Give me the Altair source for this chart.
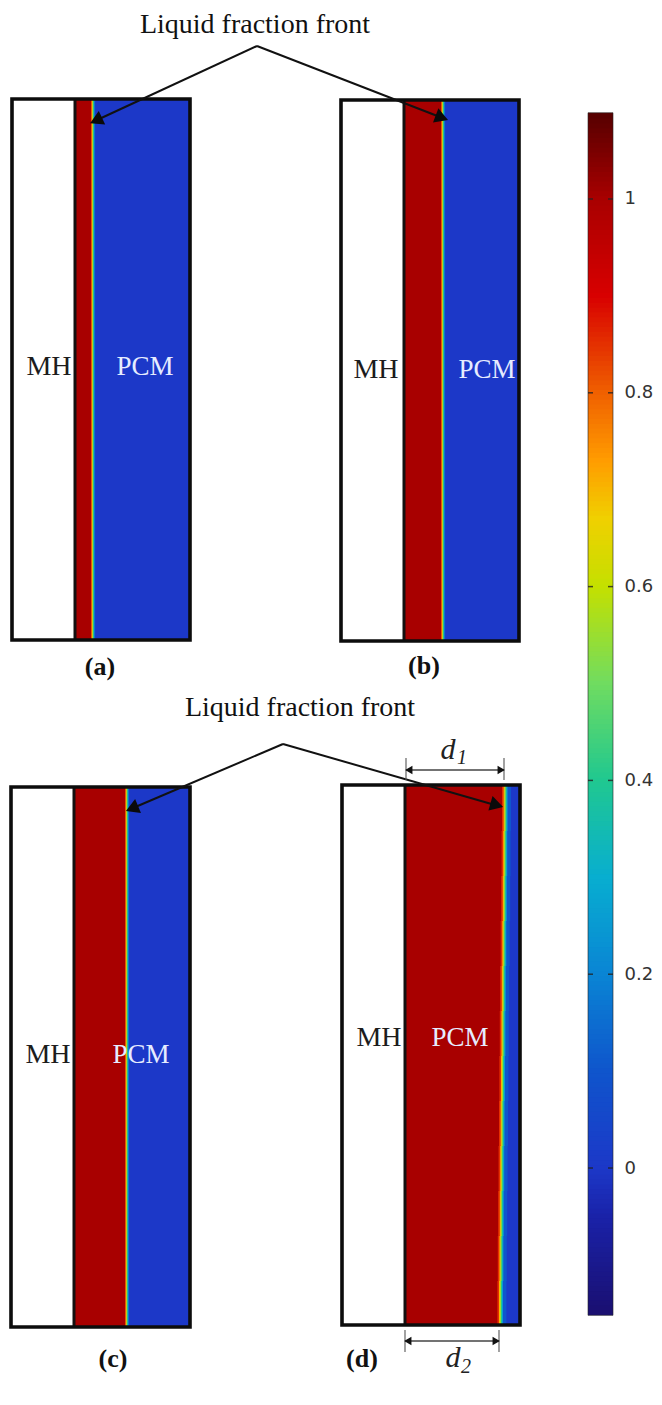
import altair as alt
import pandas as pd

# --- colour map
cmap_values = [-0.152, -0.05, 0.0, 0.1, 0.2, 0.3, 0.4, 0.5, 0.6, 0.67, 0.73, 0.8, 0.9, 1.0, 1.089]
cmap_colors = ["#1a0f70", "#1a22a8", "#1c38c8", "#0f55cc", "#0a85d4", "#08aed0", "#20c890", "#70dc60",
               "#c4e000", "#f0d000", "#ff9c00", "#f06000", "#d80000", "#a80000", "#560000"]
bar_min, bar_max = -0.152, 1.089
bar_ticks = [0, 0.2, 0.4, 0.6, 0.8, 1]

# --- panels
panels = ["a", "b", "c", "d"]
frame_left = [12, 341, 11, 342]
frame_right = [190, 519, 190, 520]
frame_top = [99, 100, 787, 785]
frame_bottom = [640, 641, 1327, 1325]
divider = [75, 404, 74, 405]

# liquid-fraction front: y stations and the x of the front at each one
front_y = {"a": [99, 640], "b": [100, 641], "c": [787, 1327],
           "d": [785, 830, 875, 920, 965, 1010, 1055, 1100, 1145, 1190, 1235, 1280, 1325]}
front_x = {"a": [91], "b": [441], "c": [125],
           "d": [502, 501.6, 501.2, 500.7, 500.2, 499.8, 499.4, 499, 498.6, 498.2, 497.8, 497.4]}
band_values = [0.1, 0.25, 0.4, 0.55, 0.7, 0.85, 1.0]
band_offset_thin = [4.2, 3.5, 2.8, 2.1, 1.4, 0.7, 0]
band_offset_wide = [9.0, 5.6, 4.6, 3.6, 2.6, 1.6, 0]

# --- text
regular_text = ["Liquid fraction front", "Liquid fraction front"]
regular_x = [255, 300]
regular_y = [33, 716]
labels_mh_x = [49, 376, 48, 379]
labels_mh_y = [375, 378, 1063, 1046]
labels_pcm_x = [145, 487, 141, 460]
labels_pcm_y = [375, 378, 1063, 1046]
sub_labels = ["(a)", "(b)", "(c)", "(d)"]
sub_x = [100, 424, 113, 362]
sub_y = [675, 674, 1367, 1367]

# --- arrows
arrow_x = [257, 257, 283, 283]
arrow_y = [46, 46, 744, 744]
arrow_x2 = [97, 440, 133, 495]
arrow_y2 = [120, 117, 808, 805]
head_x = [98, 439.8, 134, 494.7]
head_y = [119.6, 117, 807.7, 804.5]
head_angle = [245, 110.8, 247.4, 105.8]

dim_y = [770, 1341]
dim_x = [406, 405]
dim_x2 = [504, 499]
dim_tick_top = [758, 1330]
dim_tick_bottom = [780, 1352]

X_DOM = [8, 588]
Y_DOM = [1397, 8]
xs = alt.Scale(domain=X_DOM, nice=False, zero=False)
ys = alt.Scale(domain=Y_DOM, nice=False, zero=False)
cs = alt.Scale(domain=cmap_values, range=cmap_colors, interpolate="rgb")


def X(f):
    return alt.X(f, type="quantitative", scale=xs, axis=None, title=None)


def Y(f):
    return alt.Y(f, type="quantitative", scale=ys, axis=None, title=None)


# ---------- tables
base_rows = []
band_rows = []
for i, p in enumerate(panels):
    base_rows.append(dict(x=divider[i], x2=frame_right[i], y=frame_top[i], y2=frame_bottom[i], v=0.0))
    offs = band_offset_wide if p == "d" else band_offset_thin
    last = len(front_x[p]) - 1
    for v, o in zip(band_values, offs):
        for j, xx in enumerate(front_x[p]):
            y_end = front_y[p][j + 1] + (0 if j == last else 1)
            band_rows.append(dict(v=v, y=front_y[p][j], y2=y_end, x=divider[i], x2=xx + o))
base_df = pd.DataFrame(base_rows)
band_df = pd.DataFrame(band_rows)
frame_df = pd.DataFrame(dict(x=frame_left, x2=frame_right, y=frame_top, y2=frame_bottom))
div_df = pd.DataFrame(dict(x=divider, y=frame_top, y2=frame_bottom))
arrow_df = pd.DataFrame(dict(x=arrow_x, y=arrow_y, x2=arrow_x2, y2=arrow_y2))
head_df = pd.DataFrame(dict(x=head_x, y=head_y, a=head_angle))

base_layer = alt.Chart(base_df).mark_rect().encode(
    x=X("x"), x2="x2", y=Y("y"), y2="y2",
    color=alt.Color("v:Q", scale=cs, legend=None))

band_layer = alt.Chart(band_df).mark_rect().encode(
    x=X("x"), x2="x2", y=Y("y"), y2="y2",
    color=alt.Color("v:Q", scale=cs, legend=None))

frame_layer = alt.Chart(frame_df).mark_rect(fill=None, stroke="#0c0c0c", strokeWidth=3.6).encode(
    x=X("x"), x2="x2", y=Y("y"), y2="y2")

div_layer = alt.Chart(div_df).mark_rule(color="#141010", strokeWidth=3).encode(
    x=X("x"), y=Y("y"), y2="y2")

arrow_layer = alt.Chart(arrow_df).mark_rule(color="#111111", strokeWidth=2).encode(
    x=X("x"), y=Y("y"), x2="x2", y2="y2")

head_layer = alt.Chart(head_df).mark_point(shape="triangle", filled=True, opacity=1, color="#0a0a0a", size=230).encode(
    x=X("x"), y=Y("y"), angle=alt.Angle("a:Q", scale=None))

# dimension arrows d1, d2
dim_line = alt.Chart(pd.DataFrame(dict(x=dim_x, x2=dim_x2, y=dim_y))).mark_rule(color="#444444", strokeWidth=1.3).encode(
    x=X("x"), x2="x2", y=Y("y"))
dim_ticks_df = pd.DataFrame(dict(
    x=dim_x + dim_x2, y=dim_tick_top * 2, y2=dim_tick_bottom * 2))
dim_ticks = alt.Chart(dim_ticks_df).mark_rule(color="#555555", strokeWidth=1.1).encode(
    x=X("x"), y=Y("y"), y2="y2")
dim_heads_df = pd.DataFrame(dict(
    x=[410, 500, 409, 495], y=[770, 770, 1341, 1341], a=[270, 90, 270, 90]))
dim_heads = alt.Chart(dim_heads_df).mark_point(shape="triangle", filled=True, opacity=1, color="#111111", size=70).encode(
    x=X("x"), y=Y("y"), angle=alt.Angle("a:Q", scale=None))


def text_layer(xs_, ys_, texts, size, color="#111111", weight="normal", style="normal", align="center"):
    df = pd.DataFrame(dict(x=xs_, y=ys_, t=texts))
    return alt.Chart(df).mark_text(
        font="Liberation Serif", fontSize=size, color=color, fontWeight=weight, fontStyle=style,
        align=align, baseline="alphabetic").encode(x=X("x"), y=Y("y"), text="t:N")


texts = [
    text_layer(regular_x, regular_y, regular_text, 28),
    text_layer(labels_mh_x, labels_mh_y, ["MH"] * 4, 28, color="#1c1c1c"),
    text_layer(labels_pcm_x, labels_pcm_y, ["PCM"] * 4, 27, color="#e6ecff"),
    text_layer(sub_x, sub_y, sub_labels, 26, weight="bold"),
    text_layer([448, 453], [759, 1367], ["d", "d"], 30, style="italic", color="#222222"),
    text_layer([462, 466], [764, 1373], ["1", "2"], 20, style="italic", color="#222222"),
]

left = alt.layer(base_layer, band_layer, div_layer, frame_layer, arrow_layer, head_layer,
                 dim_line, dim_ticks, dim_heads, *texts).properties(width=580, height=1389)

# ---------- colour bar panel
bar_step = 0.005
n = int(round((bar_max - bar_min) / bar_step))
bar_df = pd.DataFrame(dict(v=[bar_min + k * bar_step for k in range(n)]))
bar_df["v2"] = (bar_df["v"] + bar_step + 0.0012).clip(upper=bar_max)
bar_df["c"] = bar_df["v"] + bar_step / 2

vs = alt.Scale(domain=[-0.2363, 1.1971], nice=False, zero=False)
bar_axis = alt.Axis(orient="right", values=bar_ticks, format="~g", domain=False, ticks=False, grid=False,
                    labelPadding=11, labelFontSize=18, labelFont="DejaVu Sans", labelColor="#333333",
                    labelAlign="left", labelBaseline="middle", labelOverlap=False, title=None)

bar = alt.Chart(bar_df).mark_rect().encode(
    x=alt.value(0), x2=alt.value(25),
    y=alt.Y("v:Q", scale=vs, title=None, axis=bar_axis),
    y2="v2:Q",
    color=alt.Color("c:Q", scale=cs, legend=None))

outline = alt.Chart(pd.DataFrame(dict(a=[bar_min], b=[bar_max]))).mark_rect(
    fill=None, stroke="#222222", strokeWidth=1, strokeOpacity=0.6).encode(
    x=alt.value(0), x2=alt.value(25),
    y=alt.Y("a:Q", scale=vs, title=None, axis=bar_axis), y2="b:Q")

tick_df = pd.DataFrame(dict(v=bar_ticks))
tick_l = alt.Chart(tick_df).mark_rule(color="#222222", strokeWidth=1.5, opacity=0.8).encode(
    x=alt.value(0), x2=alt.value(5), y=alt.Y("v:Q", scale=vs, title=None, axis=bar_axis))
tick_r = alt.Chart(tick_df).mark_rule(color="#222222", strokeWidth=1.5, opacity=0.8).encode(
    x=alt.value(20), x2=alt.value(25), y=alt.Y("v:Q", scale=vs, title=None, axis=bar_axis))

right = alt.layer(bar, outline, tick_l, tick_r).properties(width=25, height=1389)

chart = alt.hconcat(left, right, spacing=0, padding=0, bounds="flush", background="white").configure_view(stroke=None)
chart.save("out.html", embed_options={"renderer": "svg", "actions": False})
